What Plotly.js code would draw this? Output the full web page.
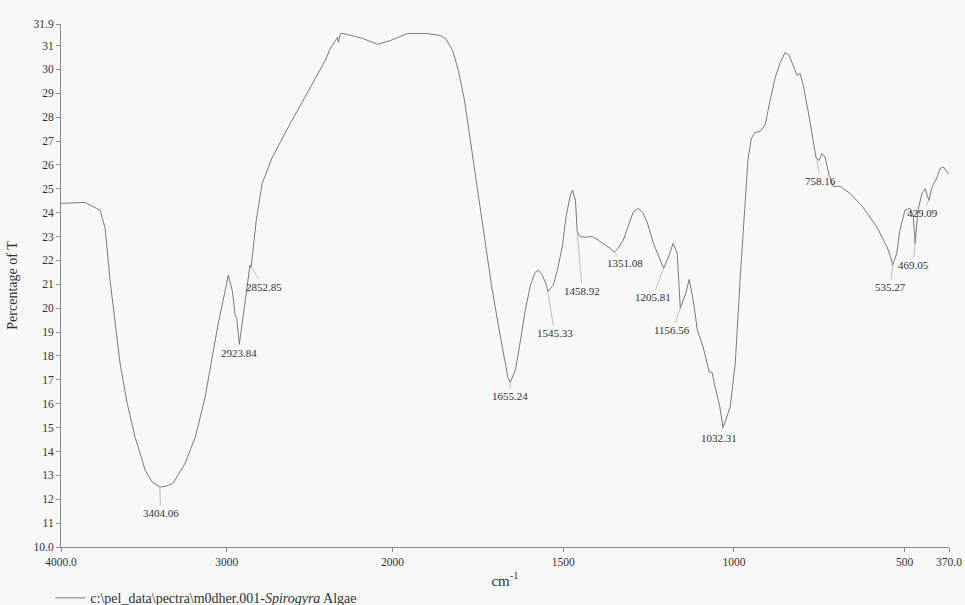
<!DOCTYPE html>
<html>
<head>
<meta charset="utf-8">
<script src="https://cdn.plot.ly/plotly-3.0.1.min.js"></script>
<style>html,body{margin:0;padding:0;background:#f8f8f8;}#chart{width:965px;height:605px;}</style>
</head>
<body>
<div id="chart"></div>
<script>
// Wavenumbers (cm-1) and % transmittance
const wavenumber = [4000,3855,3764,3734,3704,3674,3644,3601,3553,3492,3450,3402,3366,3323,3251,3190,3130,3088,3051,3009,2991,2967,2949,2940,2924,2888,2870,2860,2853,2822,2786,2725,2616,2496,2405,2375,2332,2326,2314,2296,2242,2181,2091,2012,1956,1898,1860,1845,1824,1807,1789,1772,1751,1731,1710,1690,1672,1662,1655,1640,1625,1611,1596,1582,1573,1561,1549,1545,1529,1517,1502,1491,1479,1473,1464,1459,1450,1435,1415,1397,1377,1362,1351,1339,1324,1309,1295,1280,1268,1254,1236,1218,1206,1190,1178,1166,1157,1140,1131,1119,1107,1090,1072,1064,1055,1042,1032,1011,996,982,967,959,949,938,923,908,894,879,864,850,838,826,815,806,797,783,771,759,750,742,733,721,709,689,660,622,581,551,540,535,523,514,499,485,475,469,461,449,440,429,420,405,396,385,376,370];
const transmittance = [24.39,24.43,24.1,23.35,21.17,19.37,17.7,16.02,14.6,13.22,12.72,12.51,12.55,12.68,13.51,14.6,16.28,17.95,19.37,20.75,21.38,20.75,19.71,19.58,18.5,20.33,21.25,21.8,21.7,23.68,25.23,26.32,27.74,29.25,30.38,30.88,31.34,31.13,31.5,31.5,31.42,31.3,31.05,31.21,31.5,31.5,31.42,31.3,30.8,29.96,28.7,27.03,24.94,22.85,20.96,19.29,17.9,17.1,16.9,17.4,18.66,19.92,20.96,21.5,21.59,21.38,20.96,20.7,20.96,21.59,22.64,23.89,24.73,24.94,24.52,23.2,23.0,22.97,23.0,22.85,22.64,22.51,22.34,22.51,22.85,23.47,24.02,24.18,24.02,23.6,22.72,22.1,21.67,22.2,22.72,22.3,20.0,20.67,21.21,20.33,19.08,18.37,17.32,17.32,16.69,15.94,15.0,15.86,17.7,21.17,24.64,26.19,27.11,27.36,27.4,27.7,28.7,29.66,30.29,30.71,30.58,30.12,29.75,29.83,29.33,28.28,27.24,26.28,26.19,26.48,26.32,25.56,25.1,25.1,24.81,24.23,23.39,22.55,22.1,21.8,22.3,23.26,24.1,24.18,23.89,22.72,24.1,24.81,25.0,24.52,25.06,25.48,25.86,25.9,25.69,25.65];

// Labelled peaks
const peakLabels = ["3404.06","2923.84","2852.85","1655.24","1545.33","1458.92","1351.08","1205.81","1156.56","1032.31","758.16","535.27","469.05","429.09"];
const peakWn = [3404.06,2923.84,2852.85,1655.24,1545.33,1458.92,1351.08,1205.81,1156.56,1032.31,758.16,535.27,469.05,429.09];
const peakT  = [12.51,18.5,21.7,16.9,20.7,23.2,22.34,21.67,20.0,15.0,26.28,21.8,22.72,24.52];
const peakDx = [1,0,13,0,7,5,11,-11,-8,-4,4,-2,-2,-6];
const peakDy = [26,9,19,14,42,59,11,29,22,10,23,22,22,13];

// Axis ticks
const xTickWn = [4000,3000,2000,1500,1000,500,370];
const xTickText = ["4000.0","3000","2000","1500","1000","500","370.0"];
const yTickVals = [10,11,12,13,14,15,16,17,18,19,20,21,22,23,24,25,26,27,28,29,30,31,31.9];
const yTickText = ["10.0","11","12","13","14","15","16","17","18","19","20","21","22","23","24","25","26","27","28","29","30","31","31.9"];

// Instrument scale: expanded ×2.06 below 2000 cm-1
const K = 2.06;
function u(wn){ return wn >= 2000 ? 4000 - wn : 2000 + (2000 - wn) * K; }

const serif = "'Liberation Serif', 'Times New Roman', serif";

const trace = {
  x: wavenumber.map(u),
  y: transmittance,
  mode: 'lines',
  line: {color: '#7a7a7a', width: 1},
  name: 'c:\\pel_data\\pectra\\m0dher.001-<i>Spirogyra</i> Algae',
  hoverinfo: 'skip'
};

const annotations = peakLabels.map((t, i) => ({
  x: u(peakWn[i]), y: peakT[i], xref: 'x', yref: 'y',
  text: t, showarrow: true, arrowhead: 0, arrowwidth: 0.6, arrowcolor: '#9a9a9a',
  ax: peakDx[i], ay: peakDy[i], standoff: 0,
  font: {family: serif, size: 11, color: '#333'}
}));

const layout = {
  width: 965, height: 605,
  paper_bgcolor: '#f8f8f8', plot_bgcolor: 'rgba(0,0,0,0)',
  margin: {l: 61, r: 16, t: 24, b: 58, autoexpand: false},
  showlegend: true,
  legend: {x: -0.012, xanchor: 'left', y: -0.098, yanchor: 'middle', bgcolor: 'rgba(0,0,0,0)',
           font: {family: serif, size: 14, color: '#333'}, orientation: 'h'},
  xaxis: {
    range: [0, u(370)], tickmode: 'array', tickvals: xTickWn.map(u), ticktext: xTickText,
    showgrid: false, zeroline: false, showline: true, linecolor: '#8a8a8a', linewidth: 1,
    ticks: 'outside', ticklen: 4, tickcolor: '#8a8a8a',
    tickfont: {family: serif, size: 11.5, color: '#333'},
    title: {text: 'cm<sup>-1</sup>', font: {family: serif, size: 15, color: '#333'}, standoff: 8}
  },
  yaxis: {
    range: [10, 31.9], tickmode: 'array', tickvals: yTickVals, ticktext: yTickText,
    showgrid: false, zeroline: false, showline: true, linecolor: '#8a8a8a', linewidth: 1,
    ticks: 'outside', ticklen: 4, tickcolor: '#8a8a8a',
    tickfont: {family: serif, size: 11.5, color: '#333'},
    title: {text: 'Percentage of T', font: {family: serif, size: 14, color: '#333'}, standoff: 12}
  },
  annotations: annotations
};

Plotly.newPlot('chart', [trace], layout, {staticPlot: true, displayModeBar: false});
</script>
</body>
</html>
